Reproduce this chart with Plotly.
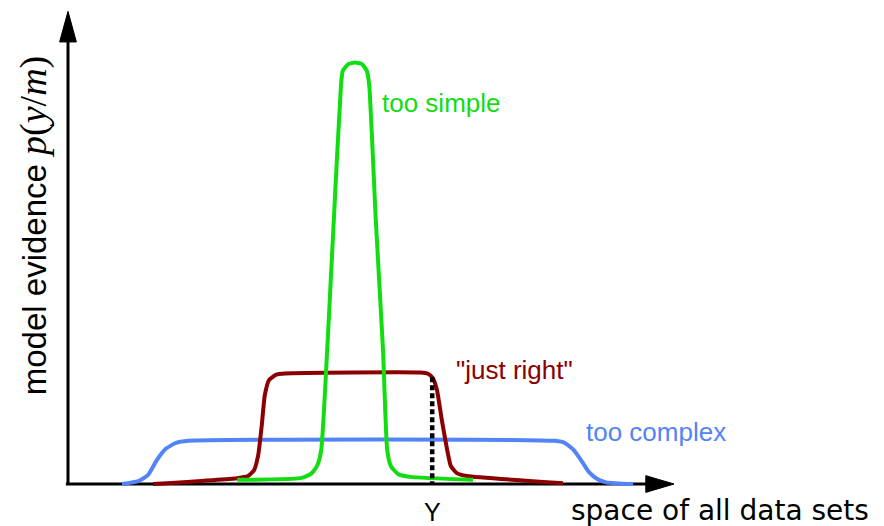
import plotly.graph_objects as go

# Evidence curves over the (1-D) space of data sets, evidence normalised so the
# narrow model peaks at about 1.
simple_x = [28.2, 38.7, 40.5, 41.5, 42.2, 43.2, 44.3, 45.5, 45.8, 46.7, 47.8,
            49.0, 49.8, 50.2, 51.3, 52.5, 53.2, 53.8, 55.0, 57.0, 67.5]
simple_y = [0.010, 0.014, 0.024, 0.043, 0.081, 0.320, 0.630, 0.952, 0.986, 1.002, 1.006,
            1.002, 0.986, 0.952, 0.630, 0.320, 0.081, 0.043, 0.024, 0.017, 0.010]

right_x = [14.2, 28.2, 30.0, 31.0, 31.7, 32.3, 32.8, 33.5, 34.7, 36.2,
           58.7, 60.0, 60.8, 61.5, 62.3, 63.2, 63.8, 64.8, 66.5, 82.5]
right_y = [0.000, 0.014, 0.019, 0.033, 0.069, 0.141, 0.212, 0.248, 0.261, 0.264,
           0.266, 0.263, 0.253, 0.224, 0.153, 0.081, 0.043, 0.026, 0.019, 0.002]

complex_x = [9.0, 11.7, 13.3, 14.8, 16.3, 18.0, 20.0, 81.2, 82.8, 84.3, 85.7,
             86.8, 88.2, 89.7, 94.2]
complex_y = [0.000, 0.007, 0.021, 0.057, 0.084, 0.098, 0.103, 0.103, 0.098, 0.081, 0.053,
             0.029, 0.012, 0.004, 0.000]

# observed data set Y and the evidence the "just right" model gives it
obs_x = 60.7
obs_evidence = 0.255

labels = ["too simple", '"just right"', "too complex"]
colors = ["#11DD11", "#8B0000", "#5283F7"]

SANS = "Liberation Sans, Arial, sans-serif"
SERIF = "Liberation Serif, Times New Roman, serif"

fig = go.Figure()
for xs, ys, c in [(complex_x, complex_y, colors[2]),
                  (right_x, right_y, colors[1]),
                  (simple_x, simple_y, colors[0])]:
    fig.add_trace(go.Scatter(x=xs, y=ys, mode="lines",
                             line=dict(color=c, width=4, shape="spline", smoothing=0.5),
                             hoverinfo="skip", showlegend=False))

# dotted drop line from the evidence at Y down to the axis
fig.add_trace(go.Scatter(x=[obs_x, obs_x], y=[obs_evidence, 0], mode="lines",
                         line=dict(color="black", width=4.5, dash="5px,3px"),
                         hoverinfo="skip", showlegend=False))

# hand-drawn axes with arrow heads (units: x 6 px, y 419 px)
ax_col = "black"
shapes = [
    dict(type="line", x0=0, y0=0, x1=0, y1=1.06, line=dict(color=ax_col, width=3), layer="below"),
    dict(type="path", path="M -1.4 1.055 L 1.4 1.055 L 0 1.128 Z",
         fillcolor=ax_col, line=dict(color=ax_col, width=1)),
    dict(type="line", x0=-0.35, y0=0, x1=97, y1=0, line=dict(color=ax_col, width=3), layer="below"),
    dict(type="path", path="M 96.3 -0.02 L 96.3 0.02 L 101.0 0 Z",
         fillcolor=ax_col, line=dict(color=ax_col, width=1)),
]

annotations = [
    dict(x=52.0, y=0.909, text=labels[0], font=dict(family=SANS, size=26, color=colors[0])),
    dict(x=64.4, y=0.272, text=labels[1], font=dict(family=SANS, size=26, color=colors[1])),
    dict(x=86.0, y=0.124, text=labels[2], font=dict(family=SANS, size=26, color=colors[2])),
    dict(x=obs_x, y=-0.066, text="Y", xanchor="center",
         font=dict(family=SANS, size=25, color="black")),
    dict(x=83.5, y=-0.064, text="space of all data sets",
         font=dict(family="DejaVu Sans, Liberation Sans, sans-serif", size=28, color="black")),
    dict(x=-5.8, y=0.618, textangle=-90, xanchor="center",
         text=('model evidence <span style="font-family:' + SERIF + ';font-size:38px">'
               '<i>p</i>(<i>y</i>/<i>m</i>)</span>'),
         font=dict(family=SANS, size=33, color="black")),
]
for a in annotations:
    a.setdefault("xanchor", "left")
    a.setdefault("yanchor", "middle")
    a.update(showarrow=False, xref="x", yref="y")

fig.update_layout(
    width=884, height=526,
    margin=dict(l=0, r=0, t=0, b=0),
    paper_bgcolor="white", plot_bgcolor="white",
    xaxis=dict(range=[-11.333, 136.0], visible=False, fixedrange=True),
    yaxis=dict(range=[-0.1002, 1.1551], visible=False, fixedrange=True),
    shapes=shapes, annotations=annotations,
)

fig.write_html("out.html")
